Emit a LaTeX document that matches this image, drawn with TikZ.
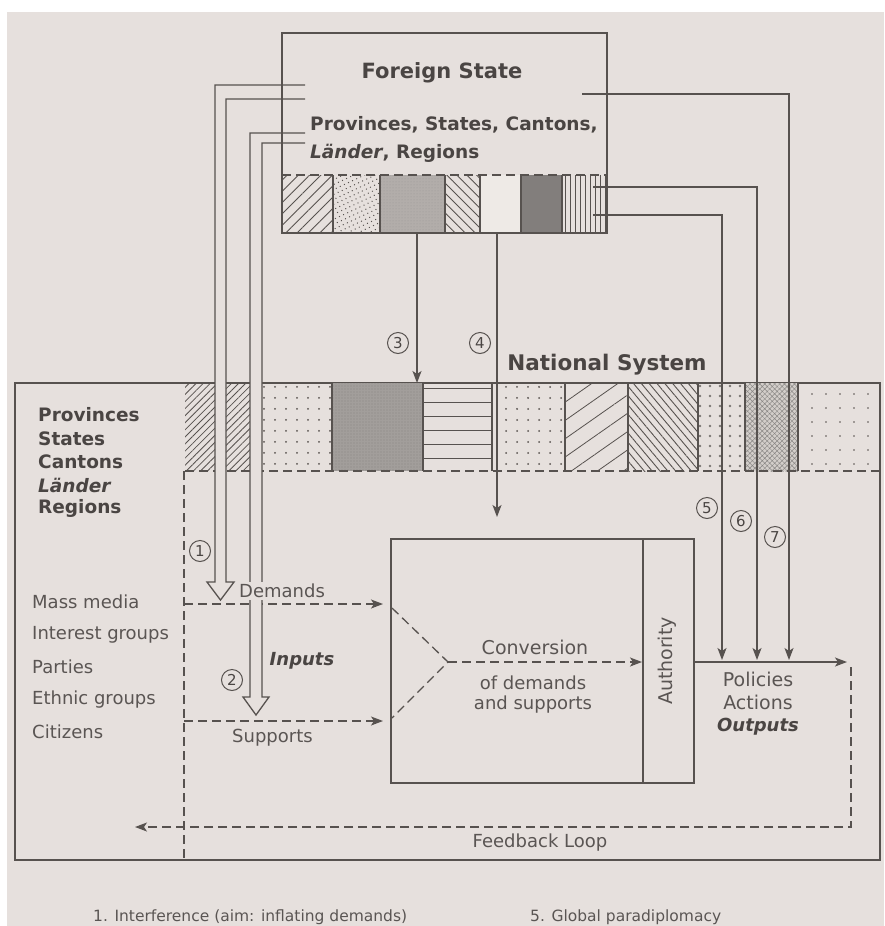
\documentclass[tikz,border=0pt]{standalone}
\usepackage{fontspec}
\setmainfont{DejaVu Sans}
\usetikzlibrary{patterns.meta,arrows.meta}
\definecolor{paper}{HTML}{E6E0DD}
\definecolor{ink}{HTML}{57524F}
\definecolor{txtB}{HTML}{4A4543}
\definecolor{txtR}{HTML}{5A5553}
\definecolor{stippleA}{HTML}{B2ADAA}
\definecolor{blankC}{HTML}{EEEAE6}
\definecolor{darkC}{HTML}{827E7C}
\definecolor{stippleB}{HTML}{A29E9B}
\definecolor{lightC}{HTML}{D3CECA}
\begin{document}
\begin{tikzpicture}[x=1pt,y=-1pt,
  ln/.style={draw=ink, line width=1.3pt},
  dl/.style={draw=ink, line width=1.3pt, dash pattern=on 9pt off 5pt},
  arr/.style={-{Stealth[length=12pt,width=9pt,inset=3pt]}},
  reg/.style={font=\fontsize{18}{21}\selectfont, text=txtR, inner sep=0pt},
  boldl/.style={font=\bfseries\fontsize{18.5}{22}\selectfont, text=txtB, inner sep=0pt},
  head/.style={font=\bfseries\fontsize{21.5}{24}\selectfont, text=txtB, inner sep=0pt},
  circ/.style={circle, draw=ink, line width=1pt, inner sep=0pt, minimum size=21pt, font=\fontsize{15}{15}\selectfont, text=txtB},
  captxt/.style={font=\fontsize{15.5}{18}\selectfont, text=txtR, inner sep=0pt, anchor=west}]
\useasboundingbox (0,0) rectangle (884,926);
% background
\fill[paper] (0,0) rectangle (884,926);
\fill[white] (0,0) rectangle (884,12);
\fill[white] (0,0) rectangle (7,926);

% ---------- Foreign State strip cells ----------
\fill[pattern={Lines[angle=45,distance=8pt,line width=0.9pt]}, pattern color=ink] (282,175) rectangle (333,233);
\fill[pattern={Dots[radius=0.7pt,distance=4.5pt,angle=25]}, pattern color=ink] (333,175) rectangle (380,233);
\fill[stippleA] (380,175) rectangle (445,233);
\fill[pattern={Dots[radius=0.5pt,distance=3pt]}, pattern color=ink!60] (380,175) rectangle (445,233);
\fill[pattern={Lines[angle=-45,distance=7pt,line width=0.9pt]}, pattern color=ink] (445,175) rectangle (480,233);
\fill[blankC] (480,175) rectangle (521,233);
\fill[darkC] (521,175) rectangle (562,233);
\fill[pattern={Lines[angle=90,distance=5pt,line width=0.9pt]}, pattern color=ink] (562,175) rectangle (607,233);
\draw[dl] (282,175) -- (607,175);
\foreach \x in {333,380,445,480,521,562} \draw[ln] (\x,175) -- (\x,233);

% ---------- National System ----------
\draw[ln] (15,383) rectangle (880,860);
\fill[pattern={Lines[angle=45,distance=5pt,line width=0.8pt]}, pattern color=ink] (185,383) rectangle (250,471);
\fill[pattern={Dots[radius=1pt,distance=11pt]}, pattern color=ink] (263,383) rectangle (332,471);
\fill[stippleB] (332,383) rectangle (423,471);
\fill[pattern={Dots[radius=0.6pt,distance=3pt]}, pattern color=ink!70] (332,383) rectangle (423,471);
\fill[pattern={Lines[angle=0,distance=14pt,line width=0.9pt,yshift=6pt]}, pattern color=ink] (423,383) rectangle (492,471);
\fill[pattern={Dots[radius=1pt,distance=11pt]}, pattern color=ink] (498,383) rectangle (565,471);
\fill[pattern={Lines[angle=35,distance=15pt,line width=0.8pt]}, pattern color=ink] (565,383) rectangle (628,471);
\fill[pattern={Lines[angle=-50,distance=6pt,line width=0.9pt]}, pattern color=ink] (628,383) rectangle (698,471);
\fill[pattern={Dots[radius=1.4pt,distance=10pt]}, pattern color=ink!80] (698,383) rectangle (745,471);
\fill[lightC] (745,383) rectangle (798,471);
\fill[pattern={Hatch[distance=3.5pt,angle=45,line width=0.45pt]}, pattern color=ink!70] (745,383) rectangle (798,471);
\fill[pattern={Dots[radius=0.8pt,distance=14pt]}, pattern color=ink] (798,383) rectangle (880,471);
\draw[dl] (185,471) -- (880,471);
\foreach \x in {332,423,492,565,628,698,745,798} \draw[ln] (\x,383) -- (\x,471);

% ---------- dashed flows ----------
\coordinate (vtop) at (184,471);
\coordinate (vbot) at (184,860);
\draw[dl] (vtop) -- (vbot);
\coordinate (dS) at (184,604);
\coordinate (dE) at (383,604);
\coordinate (sS) at (184,721);
\coordinate (sE) at (383,721);
\draw[dl,arr] (dS) -- (dE);
\draw[dl,arr] (sS) -- (sE);

% ---------- hollow arrows 1 and 2 ----------
\fill[paper] (215,85) -- (305,85) -- (305,99) -- (226,99) -- (226,582) -- (234,582) -- (220.5,600) -- (207,582) -- (215,582) -- cycle;
\draw[ln, line join=miter] (305,85) -- (215,85) -- (215,582) -- (207,582) -- (220.5,600) -- (234,582) -- (226,582) -- (226,99) -- (305,99);
\fill[paper] (250,133) -- (305,133) -- (305,143) -- (262,143) -- (262,697) -- (269,697) -- (256,715) -- (243,697) -- (250,697) -- cycle;
\draw[ln, line join=miter] (305,133) -- (250,133) -- (250,697) -- (243,697) -- (256,715) -- (269,697) -- (262,697) -- (262,143) -- (305,143);

% ---------- Foreign State box ----------
\node[draw=ink, line width=1.3pt, minimum width=325pt, minimum height=200pt, inner sep=0pt] (fs) at (444.5,133) {};
\node[head, font=\bfseries\fontsize{21}{24}\selectfont] (fstitle) at (442,73) {Foreign State};
\node[boldl, anchor=west] (fsp1) at (310,125) {Provinces, States, Cantons,};
\node[boldl, anchor=west] (fsp2) at (310,153) {\textit{Länder}, Regions};

% ---------- arrows 3 and 4 ----------
\coordinate (a3s) at (417,233);
\coordinate (a3e) at (417,383);
\coordinate (a4s) at (497,233);
\coordinate (a4e) at (497,517);
\draw[ln,arr] (a3s) -- (a3e);
\draw[ln,arr] (a4s) -- (a4e);

% ---------- arrows 5,6,7 ----------
\coordinate (a5s) at (593,215); \coordinate (a5c) at (722,215); \coordinate (a5e) at (722,660);
\coordinate (a6s) at (593,187); \coordinate (a6c) at (757,187); \coordinate (a6e) at (757,660);
\coordinate (a7s) at (582,94);  \coordinate (a7c) at (789,94);  \coordinate (a7e) at (789,660);
\draw[ln,arr] (a5s) -- (a5c) -- (a5e);
\draw[ln,arr] (a6s) -- (a6c) -- (a6e);
\draw[ln,arr] (a7s) -- (a7c) -- (a7e);

% ---------- conversion box ----------
\node[draw=ink, line width=1.3pt, minimum width=303pt, minimum height=244pt, inner sep=0pt] (conv) at (542.5,661) {};
\coordinate (authT) at (643,539);
\coordinate (authB) at (643,783);
\draw[ln] (authT) -- (authB);
\coordinate (vu) at (392,608);
\coordinate (vx) at (448,662);
\coordinate (vl) at (392,718);
\coordinate (ce) at (642,662);
\draw[dl] (vu) -- (vx) -- (vl);
\draw[dl,arr] (vx) -- (ce);

% ---------- outputs & feedback ----------
\coordinate (os) at (694,662);
\coordinate (oe) at (847,662);
\draw[ln,arr] (os) -- (oe);
\coordinate (f1) at (851,667);
\coordinate (f2) at (851,827);
\coordinate (f3) at (135,827);
\draw[dl,arr] (f1) -- (f2) -- (f3);

% ---------- circled numbers ----------
\node[circ] (n1) at (200,551) {1};
\node[circ] (n2) at (232,680) {2};
\node[circ] (n3) at (398,343) {3};
\node[circ] (n4) at (480,343) {4};
\node[circ] (n5) at (707,508) {5};
\node[circ] (n6) at (741,521) {6};
\node[circ] (n7) at (775,537) {7};

% ---------- texts ----------
\node[head] (nstitle) at (607,365) {National System};
\node[boldl, anchor=west] (lp) at (38,415) {Provinces};
\node[boldl, anchor=west] (ls) at (38,439) {States};
\node[boldl, anchor=west] (lc) at (38,462) {Cantons};
\node[boldl, anchor=west] (ll) at (38,485) {\textit{Länder}};
\node[boldl, anchor=west] (lr) at (38,508) {Regions};
\node[reg, anchor=west] (m1) at (32,602) {Mass media};
\node[reg, anchor=west] (m2) at (32,635) {Interest groups};
\node[reg, anchor=west] (m3) at (32,667) {Parties};
\node[reg, anchor=west] (m4) at (32,700) {Ethnic groups};
\node[reg, anchor=west] (m5) at (32,732) {Citizens};
\node[reg, anchor=west, fill=paper, inner xsep=1pt, inner ysep=2pt] (dem) at (238,591) {Demands};
\node[reg, anchor=west] (sup) at (232,738) {Supports};
\node[reg, font=\bfseries\itshape\fontsize{18}{21}\selectfont, text=txtB] (inp) at (302,661) {Inputs};
\node[reg, font=\fontsize{19}{22}\selectfont] (cv1) at (535,647) {Conversion};
\node[reg] (cv2) at (533,683) {of demands};
\node[reg] (cv3) at (533,705) {and supports};
\node[reg, font=\fontsize{19}{22}\selectfont, rotate=90] (auth) at (667,661) {Authority};
\node[reg, font=\fontsize{19}{22}\selectfont] (po1) at (758,679) {Policies};
\node[reg, font=\fontsize{19}{22}\selectfont] (po2) at (758,702) {Actions};
\node[reg, font=\bfseries\itshape\fontsize{18}{21}\selectfont, text=txtB] (po3) at (758,727) {Outputs};
\node[reg] (fb) at (540,843) {Feedback Loop};
\node[captxt] (c1) at (93,917) {1. Interference (aim: inflating demands)};
\node[captxt] (c5) at (530,917) {5. Global paradiplomacy};
\end{tikzpicture}
\end{document}
